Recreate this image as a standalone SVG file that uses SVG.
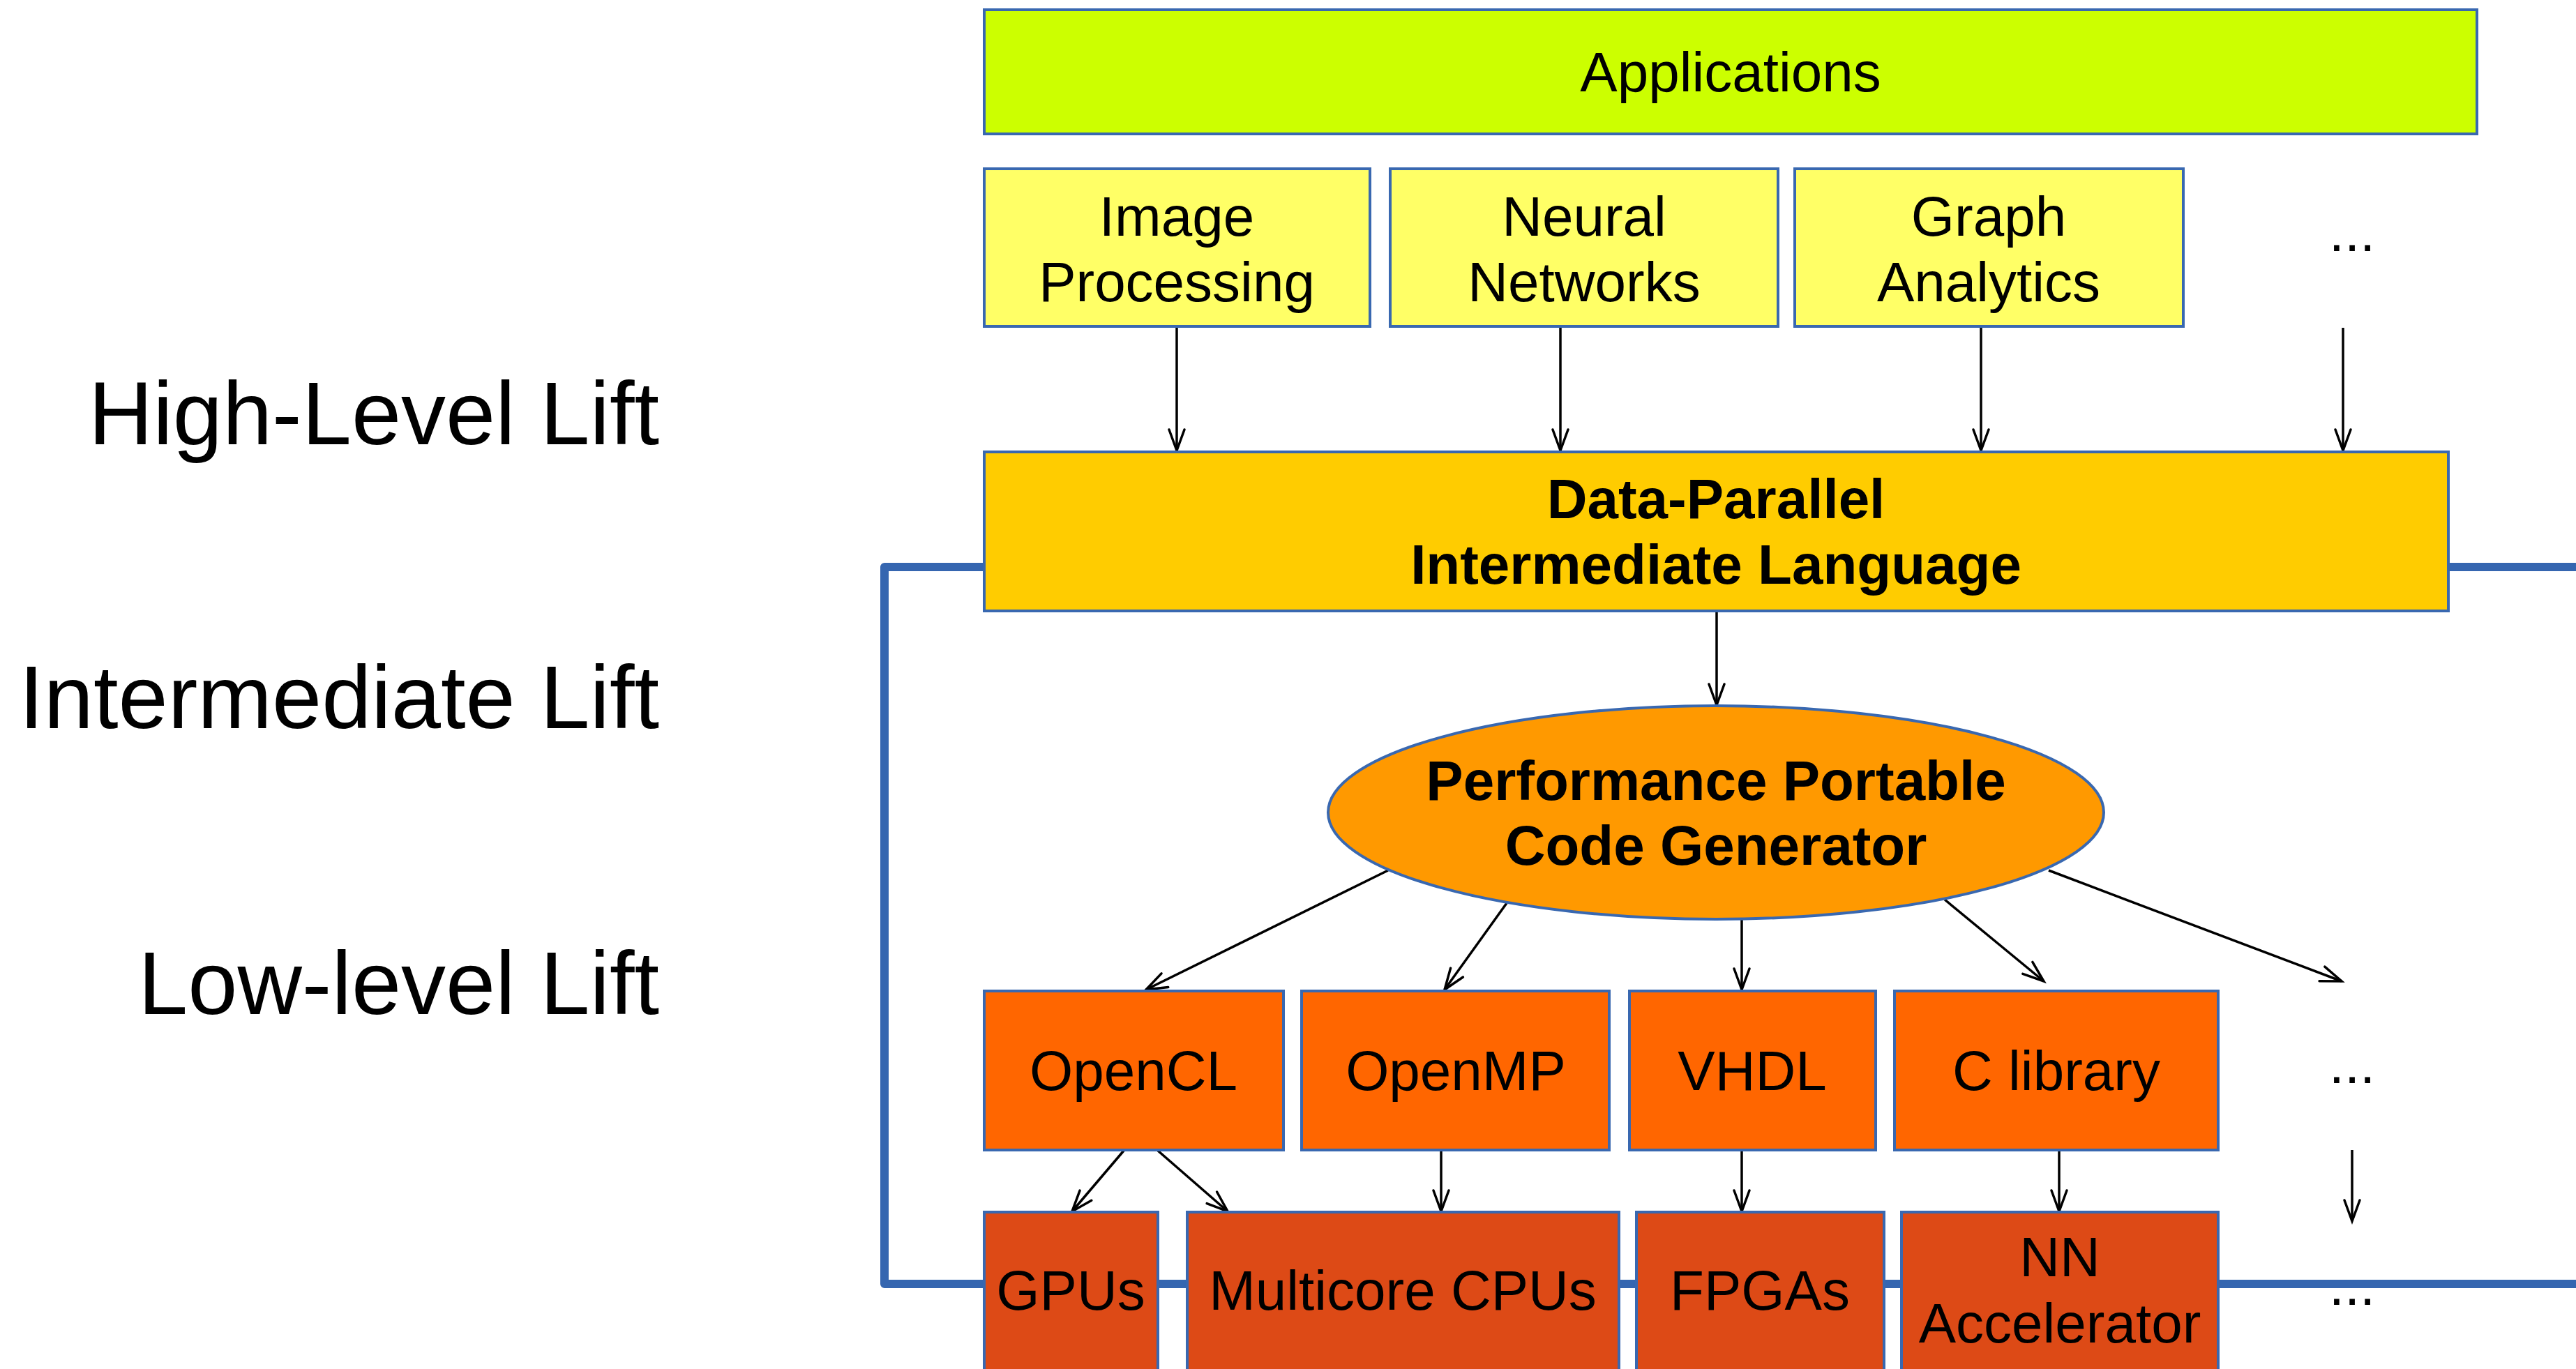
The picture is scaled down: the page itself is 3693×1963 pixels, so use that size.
<svg xmlns="http://www.w3.org/2000/svg" width="3693" height="1963" viewBox="0 0 3693 1963">
<style>
.box{stroke:#3968B0;stroke-width:4}
.t{font-family:"Liberation Sans",Arial,sans-serif;font-size:80px;text-anchor:middle;fill:#000}
.b{font-weight:bold}
.lbl{font-family:"Liberation Sans",Arial,sans-serif;font-size:128px;text-anchor:end;fill:#000}
.c{stroke:#000;stroke-width:3.5;fill:none;marker-end:url(#ah)}
</style>
<defs>
<marker id="ah" markerUnits="userSpaceOnUse" viewBox="-34 -14 38 28" refX="0" refY="0" markerWidth="38" markerHeight="28" orient="auto" overflow="visible">
<path d="M-30,-11 L0,0 L-30,11" fill="none" stroke="#000" stroke-width="3.5" stroke-linecap="round" stroke-linejoin="miter"/>
</marker>
</defs>
<rect width="3693" height="1963" fill="#fff"/>
<g id="labels">
<text class="lbl" x="945" y="637">High-Level Lift</text>
<text class="lbl" x="945" y="1044">Intermediate Lift</text>
<text class="lbl" x="945" y="1454">Low-level Lift</text>
</g>
<g id="connectors">
<path d="M1409,813 H1268 V1841 H3693" fill="none" stroke="#3566B0" stroke-width="12" stroke-linejoin="round"/>
<path d="M3511,813 H3693" fill="none" stroke="#3566B0" stroke-width="12"/>
<line class="c" x1="1687" y1="470" x2="1687" y2="646"/>
<line class="c" x1="2237" y1="470" x2="2237" y2="646"/>
<line class="c" x1="2840" y1="470" x2="2840" y2="646"/>
<line class="c" x1="3359" y1="470" x2="3359" y2="646"/>
<line class="c" x1="2461" y1="877" x2="2461" y2="1011"/>
<line class="c" x1="1990" y1="1248" x2="1643" y2="1419"/>
<line class="c" x1="2160" y1="1295" x2="2071" y2="1419"/>
<line class="c" x1="2497" y1="1318" x2="2497" y2="1419"/>
<line class="c" x1="2788" y1="1290" x2="2930" y2="1407"/>
<line class="c" x1="2937" y1="1248" x2="3357" y2="1407"/>
<line class="c" x1="1611" y1="1650" x2="1537" y2="1737"/>
<line class="c" x1="1660" y1="1650" x2="1760" y2="1737"/>
<line class="c" x1="2066" y1="1650" x2="2066" y2="1737"/>
<line class="c" x1="2497" y1="1650" x2="2497" y2="1737"/>
<line class="c" x1="2952" y1="1650" x2="2952" y2="1737"/>
<line class="c" x1="3372" y1="1649" x2="3372" y2="1751"/>
</g>
<g id="applications">
<rect class="box" x="1411" y="14" width="2140" height="178" fill="#CCFF00"/>
<text class="t" x="2481" y="131">Applications</text>
</g>
<g id="image-processing">
<rect class="box" x="1411" y="242" width="553" height="226" fill="#FFFF66"/>
<text class="t" x="1687" y="338">Image</text>
<text class="t" x="1687" y="432">Processing</text>
</g>
<g id="neural-networks">
<rect class="box" x="1993" y="242" width="556" height="226" fill="#FFFF66"/>
<text class="t" x="2271" y="338">Neural</text>
<text class="t" x="2271" y="432">Networks</text>
</g>
<g id="graph-analytics">
<rect class="box" x="2573" y="242" width="557" height="226" fill="#FFFF66"/>
<text class="t" x="2851" y="338">Graph</text>
<text class="t" x="2851" y="432">Analytics</text>
</g>
<g id="apps-more">
<text class="t" x="3372" y="360">...</text>
</g>
<g id="data-parallel-il">
<rect class="box" x="1411" y="648" width="2099" height="228" fill="#FFCC00"/>
<text class="t b" x="2460" y="743">Data-Parallel</text>
<text class="t b" x="2460" y="837">Intermediate Language</text>
</g>
<g id="code-generator">
<ellipse class="box" cx="2460" cy="1165" rx="556" ry="153" fill="#FF9900"/>
<text class="t b" x="2460" y="1147">Performance Portable</text>
<text class="t b" x="2460" y="1240">Code Generator</text>
</g>
<g id="opencl">
<rect class="box" x="1411" y="1421" width="429" height="228" fill="#FF6600"/>
<text class="t" x="1625" y="1563">OpenCL</text>
</g>
<g id="openmp">
<rect class="box" x="1866" y="1421" width="441" height="228" fill="#FF6600"/>
<text class="t" x="2087" y="1563">OpenMP</text>
</g>
<g id="vhdl">
<rect class="box" x="2336" y="1421" width="353" height="228" fill="#FF6600"/>
<text class="t" x="2512" y="1563">VHDL</text>
</g>
<g id="c-library">
<rect class="box" x="2716" y="1421" width="464" height="228" fill="#FF6600"/>
<text class="t" x="2948" y="1563">C library</text>
</g>
<g id="lang-more">
<text class="t" x="3372" y="1553">...</text>
</g>
<g id="gpus">
<rect class="box" x="1411" y="1738" width="249" height="260" fill="#DD4A16"/>
<text class="t" x="1535" y="1878">GPUs</text>
</g>
<g id="multicore-cpus">
<rect class="box" x="1702" y="1738" width="619" height="260" fill="#DD4A16"/>
<text class="t" x="2011" y="1878">Multicore CPUs</text>
</g>
<g id="fpgas">
<rect class="box" x="2346" y="1738" width="355" height="260" fill="#DD4A16"/>
<text class="t" x="2523" y="1878">FPGAs</text>
</g>
<g id="nn-accelerator">
<rect class="box" x="2726" y="1738" width="454" height="260" fill="#DD4A16"/>
<text class="t" x="2953" y="1830">NN</text>
<text class="t" x="2953" y="1925">Accelerator</text>
</g>
<g id="hw-more">
<text class="t" x="3372" y="1871">...</text>
</g>
</svg>
